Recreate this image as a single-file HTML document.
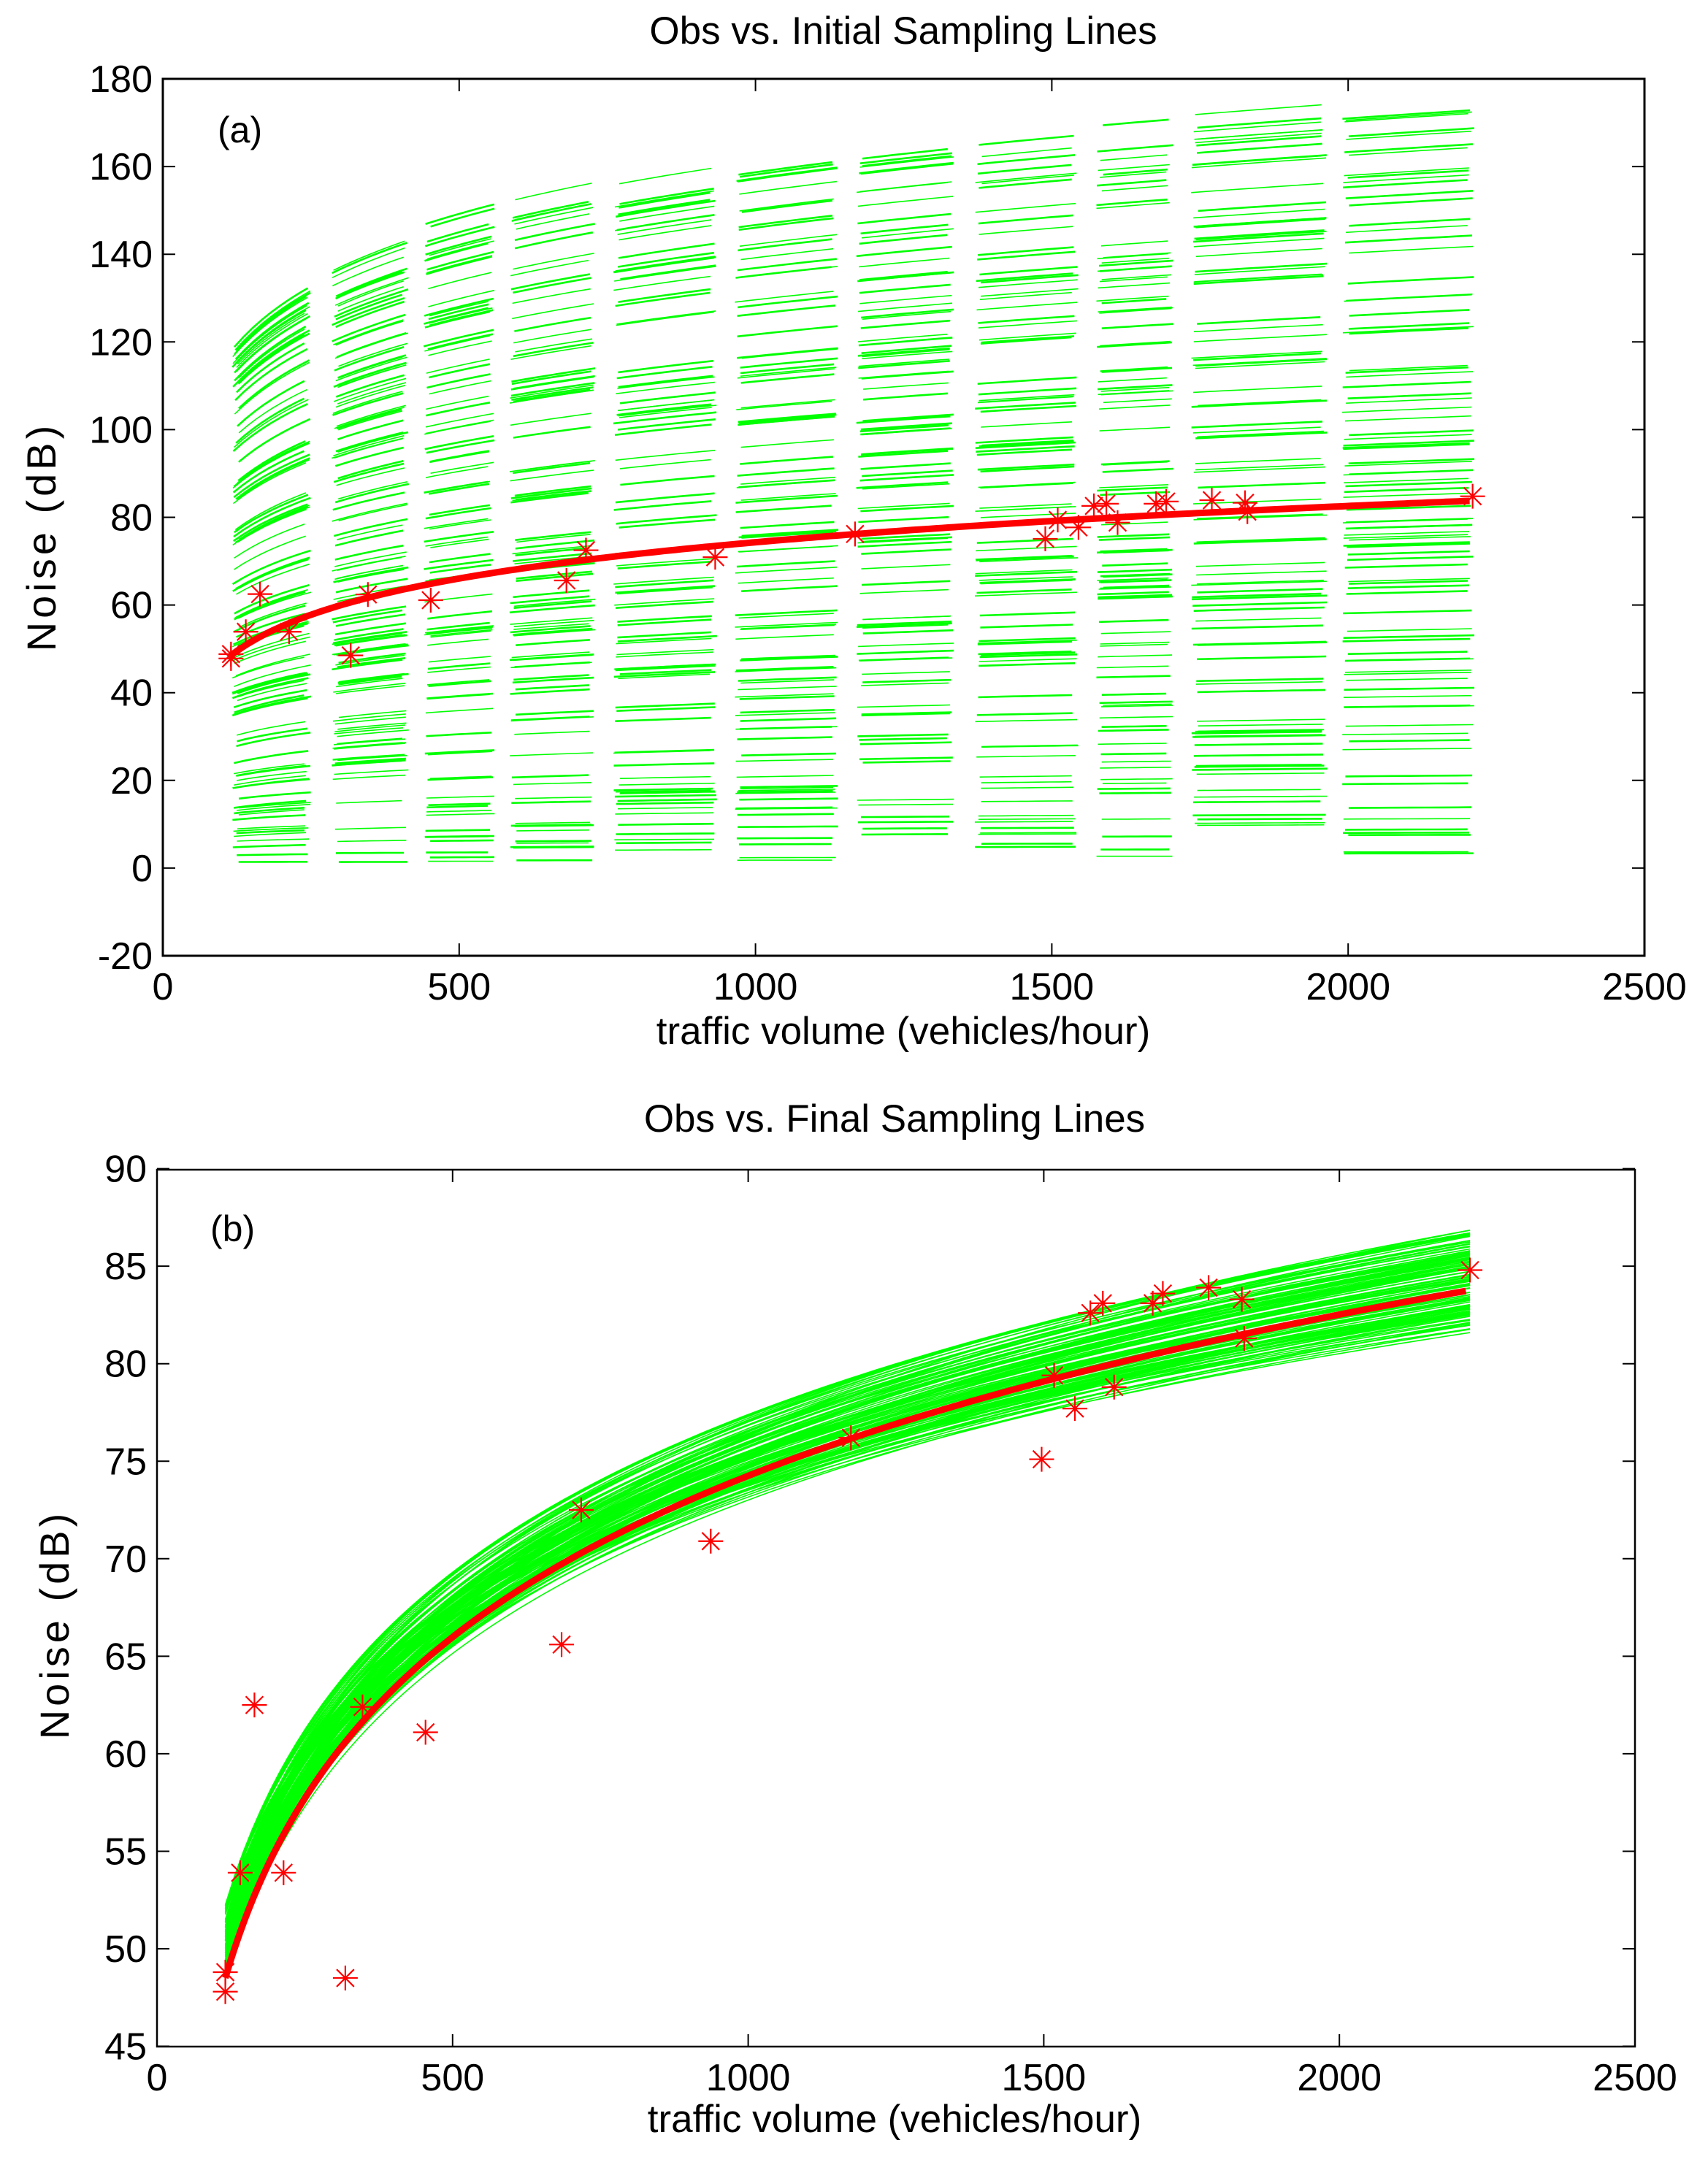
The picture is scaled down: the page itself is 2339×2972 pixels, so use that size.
<!DOCTYPE html>
<html><head><meta charset="utf-8">
<style>
html,body{margin:0;padding:0;background:#fff;}
svg{display:block;}
text{font-family:"Liberation Sans",Arial,sans-serif;fill:#000;}
</style></head>
<body>
<svg id="s" xmlns="http://www.w3.org/2000/svg" width="2339" height="2972" viewBox="0 0 2339 2972">
<rect width="2339" height="2972" fill="#fff"/>
<g id="g1"></g>
<g id="g2"></g>
<g id="ax"></g>
<text x="1237" y="60" font-size="53" text-anchor="middle">Obs vs. Initial Sampling Lines</text>
<text x="1237" y="1430" font-size="53" text-anchor="middle">traffic volume (vehicles/hour)</text>
<text x="1225" y="1550" font-size="53" text-anchor="middle">Obs vs. Final Sampling Lines</text>
<text x="1225" y="2920" font-size="53" text-anchor="middle">traffic volume (vehicles/hour)</text>
<text transform="translate(76,735) rotate(-90)" font-size="56" letter-spacing="5" text-anchor="middle">Noise (dB)</text>
<text transform="translate(94,2225) rotate(-90)" font-size="56" letter-spacing="5" text-anchor="middle">Noise (dB)</text>
<text x="298" y="195" font-size="50">(a)</text>
<text x="288" y="1700" font-size="50">(b)</text>
</svg>
<script>
var NS="http://www.w3.org/2000/svg";
var seed=12345;function rnd(){seed=(seed*16807)%2147483647;return (seed-1)/2147483646;}
function el(p,t,a){var e=document.createElementNS(NS,t);for(var k in a)e.setAttribute(k,a[k]);p.appendChild(e);return e;}
var g1=document.getElementById('g1'),g2=document.getElementById('g2'),ax=document.getElementById('ax');
function X1(v){return 223+v*0.8116;} function Y1(v){return 1309-(v+20)*6.005;}
function X2(v){return 215+v*0.8136;} function Y2(v){return 2669-(v-50)*26.71;}
function red(x){return -8.1+11.93*Math.log(x);}
var cols=[[117,250],[285,415],[440,560],[585,730],[760,935],[965,1140],[1170,1335],[1370,1545],[1575,1705],[1735,1965],[1990,2213]];
for(var c=0;c<cols.length;c++){
  var a=cols[c][0],b=cols[c][1];
  var n=c<2?115:90;
  for(var i=0;i<n;i++){
    var t=rnd(), e=(rnd()-0.5)*3+1;
    var xa=a+rnd()*12, xb=b-rnd()*12;
    var w=(rnd()<0.5)?1.6:2.6;
    var pts=[];
    for(var k=0;k<=8;k++){var x=xa+(xb-xa)*k/8;var y=t*(27.5+19.3*Math.log(x))+e;
      pts.push(X1(x).toFixed(1)+","+Y1(y).toFixed(1));}
    el(g1,'polyline',{points:pts.join(' '),fill:'none',stroke:'#00ff00','stroke-width':w});
  }
}
var rp=[];for(var x=115;x<=2213;x+=10)rp.push(X1(x).toFixed(1)+","+Y1(red(x)).toFixed(1));
el(g1,'polyline',{points:rp.join(' '),fill:'none',stroke:'#ff0000','stroke-width':9});
for(var i=0;i<120;i++){
  var y0=48.5+rnd()*3.8,y1=81.5+rnd()*5.3;var b=(y1-y0)/2.951,a=y0-b*Math.log(115);var pts=[];
  for(var x=115;x<=2210;x+=15){pts.push(X2(x).toFixed(1)+","+Y2(a+b*Math.log(x)).toFixed(1));}
  pts.push(X2(2210).toFixed(1)+","+Y2(a+b*Math.log(2210)).toFixed(1));
  el(g2,'polyline',{points:pts.join(' '),fill:'none',stroke:'#00ff00','stroke-width':1.6});
}
var rp2=[];for(var x=115;x<=2210;x+=8)rp2.push(X2(x).toFixed(1)+","+Y2(red(x)).toFixed(1));
el(g2,'polyline',{points:rp2.join(' '),fill:'none',stroke:'#ff0000','stroke-width':9});
var obs=[[115,48.8],[115,47.8],[140,53.9],[164,62.5],[213,53.9],[317,48.5],[346,62.4],[452,61.1],[681,65.6],[714,72.5],[932,70.9],[1168,76.2],[1489,75.1],[1510,79.4],[1545,77.7],[1571,82.6],[1592,83.1],[1611,78.8],[1676,83.1],[1693,83.6],[1770,83.9],[1826,83.3],[1830,81.3],[2210,84.8]];
function star(g,cx,cy,r){
  var d=r*0.7;
  el(g,'path',{d:"M"+(cx-r)+","+cy+"H"+(cx+r)+"M"+cx+","+(cy-r)+"V"+(cy+r)+"M"+(cx-d)+","+(cy-d)+"L"+(cx+d)+","+(cy+d)+"M"+(cx-d)+","+(cy+d)+"L"+(cx+d)+","+(cy-d),stroke:'#ff0000','stroke-width':2.2,fill:'none'});
}
obs.forEach(function(o){star(g1,X1(o[0]),Y1(o[1]),17);star(g2,X2(o[0]),Y2(o[1]),17);});
function axes(L,T,R,B,xt,X,yt,Y,sw){
  el(ax,'rect',{x:L,y:T,width:R-L,height:B-T,fill:'none',stroke:'#000','stroke-width':sw});
  xt.forEach(function(v){var x=X(v);
    el(ax,'path',{d:"M"+x+","+B+"v-17M"+x+","+T+"v17",stroke:'#000','stroke-width':2});
    var t=el(ax,'text',{x:x,y:B+60,'font-size':52,'text-anchor':'middle'});t.textContent=v;});
  yt.forEach(function(v){var y=Y(v);
    el(ax,'path',{d:"M"+L+","+y+"h17M"+R+","+y+"h-17",stroke:'#000','stroke-width':2});
    var t=el(ax,'text',{x:L-14,y:y+18,'font-size':52,'text-anchor':'end'});t.textContent=v;});
}
axes(223,108,2252,1309,[0,500,1000,1500,2000,2500],X1,[-20,0,20,40,60,80,100,120,140,160,180],Y1,3);
axes(215,1602,2239,2803,[0,500,1000,1500,2000,2500],function(v){return 215+v*0.8096;},[45,50,55,60,65,70,75,80,85,90],Y2,2.5);
</script>
</body></html>
